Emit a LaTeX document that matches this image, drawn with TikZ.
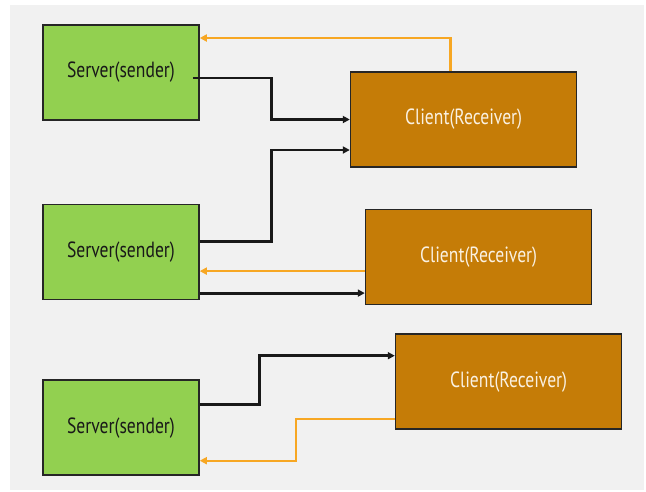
\documentclass[tikz,border=0pt]{standalone}
\usepackage{fontspec}
\usepackage{xcolor}
\usepackage{tikz}
\usetikzlibrary{arrows.meta,positioning,calc}
\newfontfamily\boxfont{PT Sans}[FakeStretch=0.8]
\definecolor{bggray}{RGB}{241,241,241}
\definecolor{sendgreen}{RGB}{146,208,80}
\definecolor{recvorange}{RGB}{197,124,7}
\definecolor{replyorange}{RGB}{247,167,35}
\definecolor{creamtext}{RGB}{250,241,226}

\begin{document}
\begin{tikzpicture}[x=1pt, y=-1pt, node distance=80pt,
    server/.style={rectangle, draw=black!85, line width=1.6pt, fill=sendgreen, minimum width=156pt, minimum height=95pt, inner sep=0pt, text=black!90, font=\boxfont\fontsize{22}{26}\selectfont},
    client/.style={rectangle, draw=black!85, line width=1.6pt, fill=recvorange, minimum width=226pt, minimum height=95pt, inner sep=0pt, text=creamtext, font=\boxfont\fontsize{22}{26}\selectfont},
    send/.style={-{Triangle[length=7pt, width=7pt]}, line width=2.8pt, black!90},
    back/.style={-{Triangle[length=7pt, width=7pt]}, line width=2.3pt, replyorange}]

    \useasboundingbox (0,0) rectangle (646,491);
    \fill[bggray] (10,5) rectangle (644,490);

    \node[server] (srv1) at (121,72.5) {Server(sender)};
    \node[server, below=83pt of srv1] (srv2) {Server(sender)};
    \node[server, below=79pt of srv2] (srv3) {Server(sender)};

    \node[client, below right=47pt and 150pt of srv1.north east] (cli1) {Client(Receiver)};
    \node[client, below right=5pt and 165pt of srv2.north east] (cli2) {Client(Receiver)};
    \node[client, below right=28pt and 30pt of cli2.south west] (cli3) {Client(Receiver)};

    % top pair
    \draw[back] ([xshift=-13pt]cli1.north) |- ([yshift=34.5pt]srv1.east);
    \draw[send] ([xshift=-7pt, yshift=-5.5pt]srv1.east) -- ++(79pt,0) |- (cli1.west);
    \draw[send] ([yshift=11pt]srv2.east) -- ++(72pt,0) |- ([yshift=-30.5pt]cli1.west);

    % middle pair
    \draw[back] ([yshift=-14pt]cli2.west) coordinate (o2) -- (o2 -| srv2.east);
    \draw[send] ([yshift=-41pt]srv2.east) coordinate (b3) -- (b3 -| cli2.west);

    % bottom pair
    \draw[send] ([yshift=23pt]srv3.east) -- ++(60pt,0) |- ([yshift=26pt]cli3.west);
    \draw[back] ([yshift=-37pt]cli3.west) -- ++(-99pt,0) |- ([yshift=-33pt]srv3.east);
\end{tikzpicture}
\end{document}
